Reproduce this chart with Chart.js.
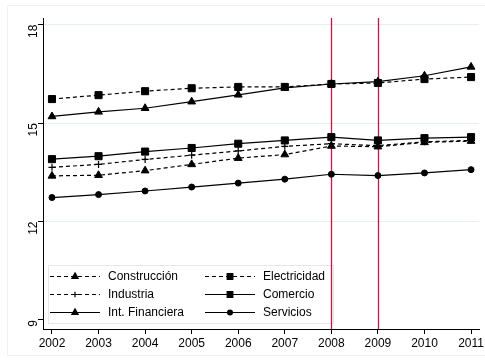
<!DOCTYPE html>
<html>
<head>
<meta charset="utf-8">
<script src="https://cdn.jsdelivr.net/npm/chart.js@4.4.1/dist/chart.umd.min.js"></script>
<style>
  html, body { margin: 0; padding: 0; background: #fff; }
  #wrap { width: 485px; height: 360px; }
</style>
</head>
<body>
<div id="wrap"><canvas id="chart" width="485" height="360"></canvas></div>
<script>
// Datos
const years = [2002, 2003, 2004, 2005, 2006, 2007, 2008, 2009, 2010, 2011]
const yTicks = [9, 12, 15, 18]
const markedYears = [2008, 2009]

const construccion = [13.39, 13.41, 13.55, 13.74, 13.93, 14.04, 14.30, 14.28, 14.41, 14.45]
const electricidad = [15.73, 15.85, 15.97, 16.06, 16.10, 16.10, 16.19, 16.22, 16.34, 16.40]
const industria = [13.65, 13.74, 13.89, 14.02, 14.15, 14.29, 14.37, 14.31, 14.43, 14.47]
const comercio = [13.90, 13.99, 14.13, 14.24, 14.37, 14.47, 14.57, 14.47, 14.54, 14.57]
const financiera = [15.20, 15.34, 15.45, 15.65, 15.86, 16.07, 16.19, 16.26, 16.44, 16.71]
const servicios = [12.73, 12.82, 12.93, 13.05, 13.17, 13.29, 13.44, 13.40, 13.48, 13.58]

const FONT = "'Liberation Sans', Arial, sans-serif"
const DASH = [4, 3]

function serie(label, values, dashed, pointStyle, radius) {
  return {
    label: label,
    data: years.map((y, i) => ({ x: y, y: values[i] })),
    borderColor: "#000",
    backgroundColor: "#000",
    borderWidth: 1.2,
    borderDash: dashed ? DASH : [],
    pointStyle: pointStyle,
    pointRadius: radius,
    pointBorderWidth: pointStyle === "cross" ? 1.2 : 1,
    pointBackgroundColor: "#000",
    pointBorderColor: "#000",
    tension: 0,
    fill: false,
  }
}

const datasets = [
  serie("Construcción", construccion, true, "triangle", 4.5),
  serie("Electricidad", electricidad, true, "rect", 5),
  serie("Industria", industria, true, "cross", 3.5),
  serie("Comercio", comercio, false, "rect", 5),
  serie("Int. Financiera", financiera, false, "triangle", 4.5),
  serie("Servicios", servicios, false, "circle", 3),
]

// Marco exterior tenue
const marco = {
  id: "marco",
  beforeDraw(chart) {
    const ctx = chart.ctx
    ctx.save()
    ctx.strokeStyle = "#edf2f3"
    ctx.lineWidth = 1
    ctx.strokeRect(7.5, 5.5, 478, 350)
    ctx.restore()
  },
}

// Leyenda y líneas verticales
const extras = {
  id: "extras",
  beforeDatasetsDraw(chart) {
    const ctx = chart.ctx
    const area = chart.chartArea
    const xs = chart.scales.x

    // leyenda
    ctx.save()
    ctx.fillStyle = "#fff"
    ctx.fillRect(48, 265, 285, 59)
    ctx.strokeStyle = "#e3e8e8"
    ctx.lineWidth = 1
    ctx.strokeRect(48.5, 265.5, 285, 58)
    const cols = [50, 205]
    const rows = [276, 294, 312]
    datasets.forEach((ds, i) => {
      const x0 = cols[i % 2]
      const y = rows[Math.floor(i / 2)]
      ctx.strokeStyle = "#000"
      ctx.lineWidth = 1.2
      ctx.setLineDash(ds.borderDash)
      ctx.beginPath()
      ctx.moveTo(x0, y + 0.5)
      ctx.lineTo(x0 + 50, y + 0.5)
      ctx.stroke()
      ctx.setLineDash([])
      ctx.fillStyle = "#000"
      Chart.helpers.drawPoint(ctx, {
        pointStyle: ds.pointStyle,
        radius: ds.pointRadius * 0.8,
        rotation: 0,
        borderWidth: 1,
      }, x0 + 25, y + 0.5)
      ctx.font = "12px " + FONT
      ctx.textBaseline = "middle"
      ctx.textAlign = "left"
      ctx.fillText(ds.label, x0 + 58, y + 1)
    })

    // líneas de 2008 y 2009
    ctx.strokeStyle = "#c8144b"
    ctx.lineWidth = 1.3
    markedYears.forEach(yr => {
      const px = Math.round(xs.getPixelForValue(yr)) + 0.5
      ctx.beginPath()
      ctx.moveTo(px, area.top)
      ctx.lineTo(px, area.bottom)
      ctx.stroke()
    })
    ctx.restore()
  },
}

new Chart(document.getElementById("chart"), {
  type: "line",
  data: { datasets: datasets },
  options: {
    responsive: false,
    animation: false,
    devicePixelRatio: 1,
    layout: { padding: { top: 18, right: 5, left: 0, bottom: 0 } },
    plugins: {
      legend: { display: false },
      tooltip: { enabled: false },
    },
    scales: {
      x: {
        type: "linear",
        min: 2001.807,
        max: 2011.171,
        afterBuildTicks: axis => { axis.ticks = years.map(v => ({ value: v })) },
        afterFit: axis => { axis.height = 31; axis.paddingLeft = 0; axis.paddingRight = 0 },
        ticks: {
          color: "#000",
          font: { family: FONT, size: 12 },
          padding: 2,
          maxRotation: 0,
          autoSkip: false,
          callback: v => String(v),
        },
        grid: { drawOnChartArea: false, tickLength: 5, tickColor: "#000" },
        border: { color: "#000", width: 1 },
      },
      y: {
        min: 8.725,
        max: 18.2,
        afterBuildTicks: axis => { axis.ticks = yTicks.map(v => ({ value: v })) },
        afterFit: axis => { axis.width = 43; axis.paddingTop = 0; axis.paddingBottom = 0 },
        ticks: {
          color: "#000",
          font: { family: FONT, size: 12 },
          padding: 4,
          minRotation: 90,
          maxRotation: 90,
          callback: v => String(v),
        },
        grid: {
          tickLength: 5,
          tickColor: "#000",
          color: ctx => (ctx.tick && ctx.tick.value === 9 ? "rgba(0,0,0,0)" : "#e6eeee"),
        },
        border: { color: "#000", width: 1 },
      },
    },
  },
  plugins: [marco, extras],
})
</script>
</body>
</html>
